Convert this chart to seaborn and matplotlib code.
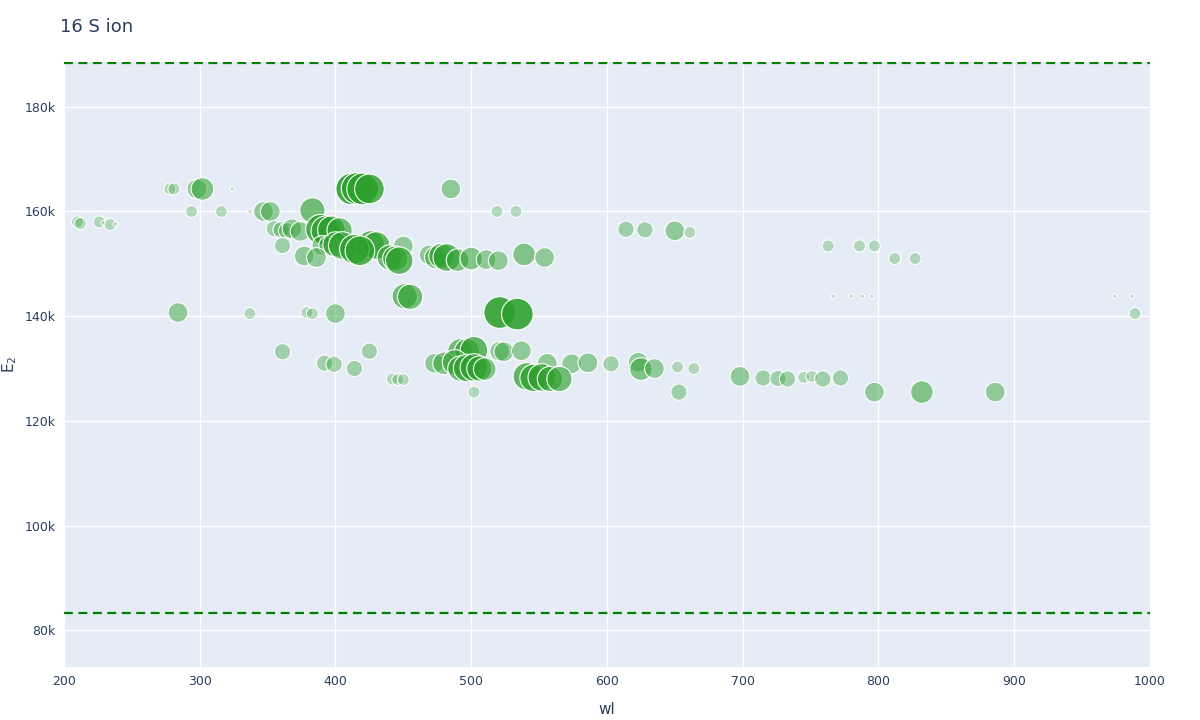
import matplotlib
matplotlib.use("Agg")
import matplotlib.pyplot as plt
import seaborn as sns
import pandas as pd
import numpy as np
from matplotlib.ticker import FuncFormatter, MultipleLocator

wl = [278,281,298,302,324,412,416,420,425,485,
      294,316,337,347,352,383,519,533,
      210,212,226,229,234,238,
      355,360,364,368,374,389,393,397,403,614,628,650,661,
      361,390,395,400,405,426,430,450,763,786,797,
      377,386,414,418,440,444,447,469,474,478,482,490,500,511,520,539,554,812,827,
      451,455,767,780,788,795,974,987,
      284,337,379,383,400,521,534,989,
      361,425,492,497,502,521,524,537,
      392,399,473,480,488,556,574,586,603,623,
      414,492,497,502,506,510,625,635,652,664,
      442,446,450,541,546,552,558,565,698,715,726,733,745,751,759,772,
      502,653,797,832,886]
E2 = [164.3,164.3,164.3,164.3,164.3,164.3,164.4,164.3,164.3,164.3,
      160.0,160.0,160.0,160.0,160.0,160.2,160.0,160.0,
      158.0,157.7,158.0,157.8,157.5,157.6,
      156.7,156.5,156.3,156.7,156.2,156.6,156.3,156.5,156.4,156.6,156.5,156.3,156.0,
      153.5,153.5,153.5,153.7,153.5,153.7,153.5,153.4,153.4,153.4,153.4,
      151.5,151.2,152.8,152.5,151.2,151.0,150.6,151.7,151.2,151.5,151.2,150.7,151.0,150.8,150.6,151.8,151.2,151.0,151.0,
      143.8,143.7,143.8,143.8,143.8,143.8,143.8,143.8,
      140.7,140.5,140.7,140.5,140.5,140.7,140.4,140.5,
      133.2,133.3,133.3,133.3,133.5,133.3,133.2,133.4,
      131.0,130.8,131.0,131.0,131.2,131.0,130.9,131.1,130.9,131.2,
      130.0,130.0,130.1,130.2,130.0,129.9,129.9,130.0,130.3,130.0,
      128.0,127.9,127.9,128.5,128.2,128.3,128.0,128.0,128.5,128.2,128.1,128.0,128.3,128.5,128.0,128.2,
      125.5,125.5,125.5,125.5,125.5]
sz = [2,2,4,5,1,9,9,9,8,4,
      2,2,1,4,4,6,2,2,
      2,2,2,1,2,1,
      3,3,3,4,4,8,8,7,6,3,3,4,2,
      3,4,4,6,7,7,7,4,2,2,2,
      4,4,8,8,6,6,7,4,5,6,7,5,5,4,4,5,4,2,2,
      6,6,1,1,1,1,1,1,
      4,2,2,2,4,9,9,2,
      3,3,6,6,7,4,4,4,
      3,3,4,5,6,4,4,4,3,4,
      3,6,7,7,6,5,5,4,2,2,
      2,2,2,7,7,7,6,6,4,3,3,3,2,2,3,3,
      2,3,4,5,4]

df = pd.DataFrame({"wl": wl, "E2": E2, "sz": sz})

sns.set_style("white")
fig = plt.figure(figsize=(12, 7.2), dpi=100)
ax = fig.add_axes([0.0533, 0.0736, 0.905, 0.840])
ax.set_facecolor("#E5ECF6")
sns.scatterplot(data=df, x="wl", y="E2", size="sz", sizes=(12, 520),
                legend=False, ax=ax, edgecolor="white", linewidth=0.8, zorder=3)
coll = ax.collections[0]
base = np.array(matplotlib.colors.to_rgba("#2ca02c"))
cols = []
for s in sz:
    c = base.copy(); c[3] = min(0.9, 0.12 + 0.085 * s); cols.append(c)
coll.set_facecolor(cols)

for yv in [188.3, 83.3]:
    ax.axhline(yv, color="green", ls=(0, (4, 2.5)), lw=1.6, zorder=2)

ax.set_xlim(200, 1000)
ax.set_ylim(73, 188.5)
ax.xaxis.set_major_locator(MultipleLocator(100))
ax.yaxis.set_major_locator(MultipleLocator(20))
ax.yaxis.set_major_formatter(FuncFormatter(lambda v, p: f"{int(v)}k"))
ax.grid(True, color="white", lw=1, zorder=0)
ax.set_axisbelow(True)
for s in ax.spines.values():
    s.set_visible(False)
ax.tick_params(length=0, labelsize=9, colors="#2a3f5f", pad=6)
ax.set_xlabel("wl", fontsize=11, color="#2a3f5f", labelpad=10)
ax.set_ylabel("E$_2$", fontsize=11, color="#2a3f5f", labelpad=4)
fig.text(0.05, 0.955, "16 S ion", fontsize=13, color="#2a3f5f")
fig.savefig("out.png", dpi=100, facecolor="white")
